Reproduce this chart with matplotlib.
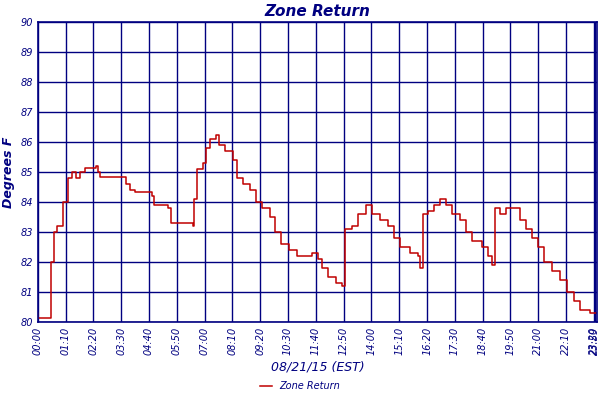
import matplotlib
matplotlib.use("Agg")
import matplotlib.pyplot as plt

minutes = [0, 1, 33, 40, 48, 63, 76, 86, 96, 106, 118, 146, 151, 156, 212, 222, 232, 244, 287, 292, 327, 335,
           378, 390, 393, 400, 415, 423, 433, 448, 456, 471, 491, 501, 516, 534, 549, 564, 584, 597, 612,
           632, 652, 672, 690, 705, 715, 730, 750, 765, 773, 791, 806, 826, 841, 861, 881, 896, 911, 937,
           957, 962, 969, 982, 997, 1012, 1027, 1042, 1063, 1078, 1093, 1118, 1133, 1143, 1151, 1163,
           1178, 1204, 1214, 1229, 1244, 1259, 1274, 1294, 1314, 1332, 1350, 1365, 1390, 1408]
temps = [80.3, 80.15, 82.0, 83.0, 83.2, 84.0, 84.8, 85.0, 84.8, 85.0, 85.15, 85.2, 85.0, 84.85, 84.85, 84.6,
         84.4, 84.35, 84.2, 83.9, 83.8, 83.3, 83.3, 83.2, 84.1, 85.1, 85.3, 85.8, 86.1, 86.25, 85.9,
         85.7, 85.4, 84.8, 84.6, 84.4, 84.0, 83.8, 83.5, 83.0, 82.6, 82.4, 82.2, 82.2, 82.3, 82.1,
         81.8, 81.5, 81.3, 81.2, 83.1, 83.2, 83.6, 83.9, 83.6, 83.4, 83.2, 82.8, 82.5, 82.3, 82.2,
         81.8, 83.6, 83.7, 83.9, 84.1, 83.9, 83.6, 83.4, 83.0, 82.7, 82.5, 82.2, 81.9, 83.8, 83.6,
         83.8, 83.8, 83.4, 83.1, 82.8, 82.5, 82.0, 81.7, 81.4, 81.0, 80.7, 80.4, 80.3, 80.3]
tick_pos = [0, 70, 140, 210, 280, 350, 420, 490, 560, 630, 700, 770, 840, 910, 980, 1050, 1120, 1190,
            1260, 1330, 1400, 1404]
tick_labels = ["00:00", "01:10", "02:20", "03:30", "04:40", "05:50", "07:00", "08:10", "09:20", "10:30",
               "11:40", "12:50", "14:00", "15:10", "16:20", "17:30", "18:40", "19:50", "21:00", "22:10",
               "23:20", "23:59"]

navy = "#000080"
fig = plt.figure(figsize=(6, 4), dpi=100)
ax = fig.add_axes([0.063, 0.195, 0.932, 0.75])
ax.plot(minutes, temps, drawstyle="steps-post", color="#c00000", lw=1.1, label="Zone Return")
ax.set_xlim(0, 1408)
ax.set_ylim(80, 90)
ax.set_yticks(range(80, 91))
ax.set_xticks(tick_pos)
ax.set_xticklabels(tick_labels, rotation=90, fontsize=7, style="italic", color=navy)
ax.tick_params(axis="y", labelsize=7, labelcolor=navy, length=0)
for t in ax.get_yticklabels():
    t.set_style("italic")
ax.tick_params(axis="x", length=0)
ax.grid(True, color=navy, lw=1)
for s in ax.spines.values():
    s.set_color(navy)
    s.set_linewidth(1.2)
ax.set_title("Zone Return", fontsize=11, style="italic", fontweight="bold", color=navy, pad=4)
ax.set_ylabel("Degrees F", fontsize=9, style="italic", fontweight="bold", color=navy, labelpad=4)
ax.set_xlabel("08/21/15 (EST)", fontsize=9, style="italic", color=navy, labelpad=4)
fig.legend(loc="lower center", bbox_to_anchor=(0.5, 0.0), frameon=False, fontsize=7,
           prop={"style": "italic", "size": 7}, labelcolor=navy, handlelength=1.2)
fig.savefig("out.png", dpi=100)
